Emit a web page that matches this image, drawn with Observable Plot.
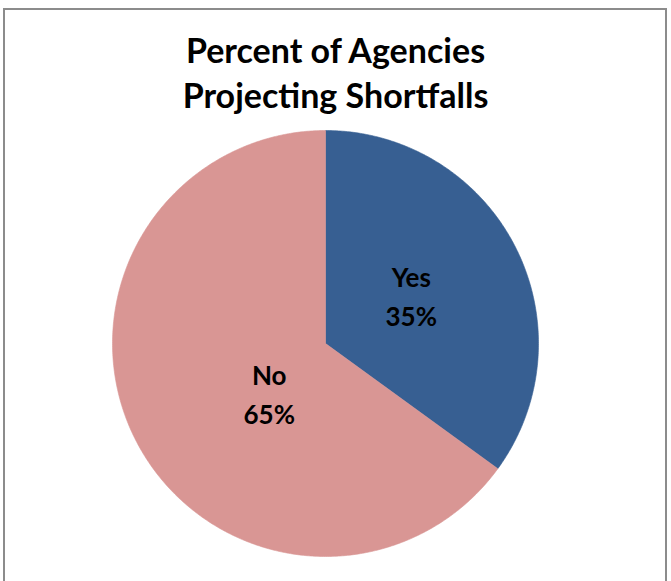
<!DOCTYPE html>
<html>
<head>
<meta charset="utf-8">
<script src="https://cdn.jsdelivr.net/npm/d3@7"></script>
<script src="https://cdn.jsdelivr.net/npm/@observablehq/plot@0.6"></script>
<style>
  html, body { margin: 0; padding: 0; background: #fff; }
  body { width: 671px; height: 581px; position: relative; overflow: hidden; font-family: Lato, "Open Sans", sans-serif; }
  #frame { position: absolute; left: 3px; top: 8px; width: 664px; height: 640px; box-sizing: border-box; border: 2px solid #8c8c8c; }
  #title { position: absolute; left: 0; width: 671px; top: 27px; text-align: center; font-weight: 700; font-size: 34px; line-height: 45px; color: #000; }
  #chart { position: absolute; left: 0; top: 120px; }
</style>
</head>
<body>
<div id="frame"></div>
<div id="title">Percent of Agencies<br>Projecting Shortfalls</div>
<div id="chart"></div>
<script>
const categories = ["Yes", "No"];
const values = [35, 65];
const colors = ["#375F92", "#D99694"];

// label layout (polar radius fraction and angle shift in degrees) — layout only
const labelLayout = { Yes: { r: 0.465, shift: -3 }, No: { r: 0.35, shift: -14 } };

const data = categories.map((c, i) => ({ label: c, value: values[i] }));
const arcs = d3.pie().sort(null).value(d => d.value).startAngle(0).endAngle(2 * Math.PI)(data);

const pts = [];
for (const a of arcs) {
  pts.push({ label: a.data.label, x: 0, y: 0 });
  const n = Math.max(2, Math.ceil((a.endAngle - a.startAngle) / (Math.PI / 360)));
  for (let k = 0; k <= n; k++) {
    const t = a.startAngle + (a.endAngle - a.startAngle) * k / n;
    pts.push({ label: a.data.label, x: Math.sin(t), y: Math.cos(t) });
  }
  pts.push({ label: a.data.label, x: 0, y: 0 });
}

const labels = arcs.map(a => {
  const L = labelLayout[a.data.label];
  const mid = (a.startAngle + a.endAngle) / 2 + L.shift * Math.PI / 180;
  return { label: a.data.label, text: `${a.data.label}\n${d3.format(".0f")(a.data.value)}%`, x: L.r * Math.sin(mid), y: L.r * Math.cos(mid) };
});

const chart = Plot.plot({
  width: 671,
  height: 446,
  marginLeft: 112,
  marginRight: 133,
  marginTop: 10,
  marginBottom: 10,
  x: { domain: [-1, 1], axis: null },
  y: { domain: [-1, 1], axis: null },
  color: { domain: categories, range: colors },
  style: { background: "transparent", overflow: "visible" },
  marks: [
    Plot.line(pts, { x: "x", y: "y", z: "label", fill: "label", stroke: "label", strokeWidth: 0.6, curve: "linear" }),
    Plot.text(labels, { x: "x", y: "y", text: "text", fontSize: 26, fontWeight: 700, lineHeight: 1.5, fill: "#000", fontFamily: "Lato, 'Open Sans', sans-serif" })
  ]
});
document.getElementById("chart").appendChild(chart);
</script>
</body>
</html>
